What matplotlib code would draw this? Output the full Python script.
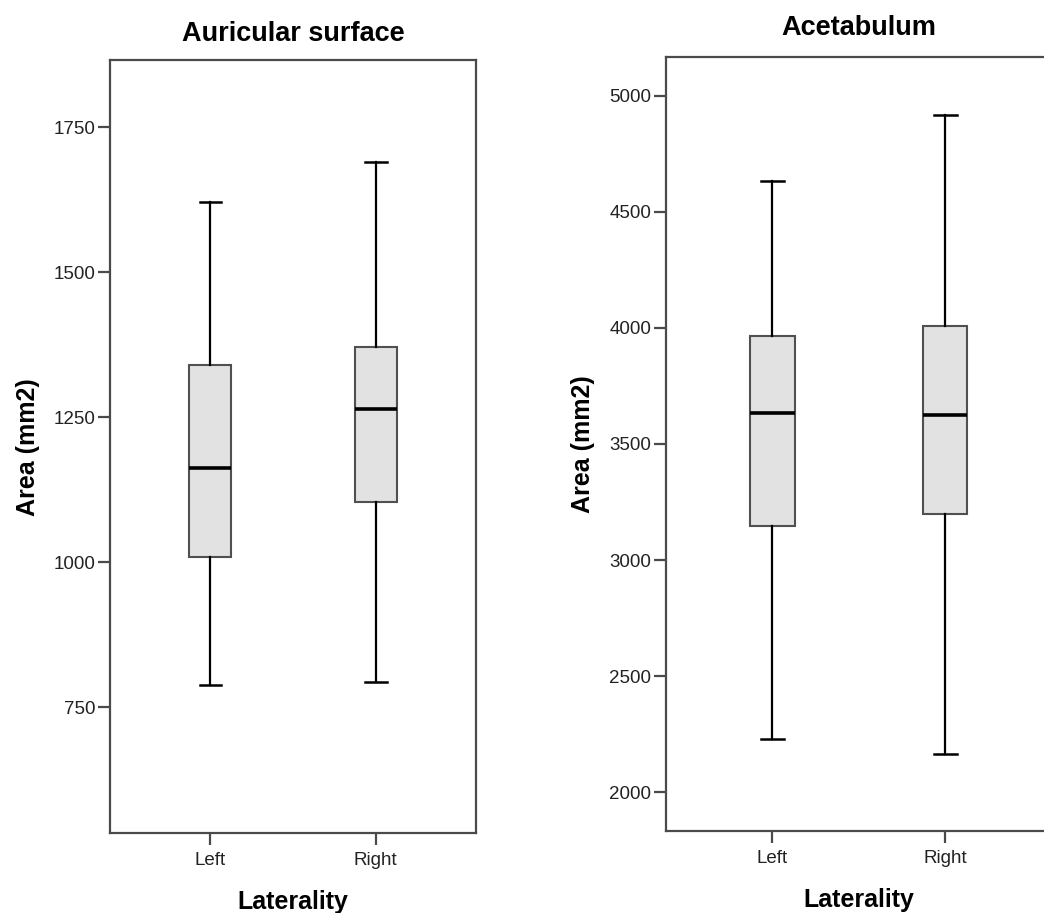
import matplotlib
matplotlib.use("Agg")
import matplotlib.pyplot as plt

plt.rcParams['font.family'] = ['Liberation Sans', 'DejaVu Sans']

categories = ["Left", "Right"]

# five-number summaries: low whisker, Q1, median, Q3, high whisker
auricular_low = [789, 794]
auricular_q1 = [1010, 1104]
auricular_med = [1162, 1264]
auricular_q3 = [1341, 1371]
auricular_high = [1621, 1690]

acetabulum_low = [2229, 2166]
acetabulum_q1 = [3146, 3198]
acetabulum_med = [3632, 3625]
acetabulum_q3 = [3963, 4009]
acetabulum_high = [4631, 4917]

auricular_ticks = [750, 1000, 1250, 1500, 1750]
acetabulum_ticks = [2000, 2500, 3000, 3500, 4000, 4500, 5000]

AXIS_COL = '#4a4a4a'


def make_stats(low, q1, med, q3, high):
    stats = []
    for i, cat in enumerate(categories):
        stats.append({'label': cat, 'whislo': low[i], 'q1': q1[i], 'med': med[i],
                      'q3': q3[i], 'whishi': high[i], 'fliers': []})
    return stats


def draw_panel(ax, stats, title, ticks, ylim, title_pad=14):
    ax.bxp(stats, positions=[1, 2], widths=0.255, patch_artist=True,
           showfliers=False,
           boxprops=dict(facecolor='#e2e2e2', edgecolor='#505050', linewidth=1.5),
           medianprops=dict(color='black', linewidth=2.6),
           whiskerprops=dict(color='black', linewidth=1.6),
           capprops=dict(color='black', linewidth=1.8),
           capwidths=0.13)
    ax.set_xlim(0.394, 2.606)
    ax.set_ylim(*ylim)
    ax.set_yticks(ticks)
    ax.set_yticklabels([str(t) for t in ticks])
    ax.set_xticks([1, 2])
    ax.set_xticklabels(categories)
    ax.tick_params(axis='both', length=8.5, width=1.6, color=AXIS_COL,
                   labelsize=13.5, labelcolor='#222222', pad=2)
    ax.tick_params(axis='x', pad=5)
    for s in ax.spines.values():
        s.set_color(AXIS_COL)
        s.set_linewidth(1.6)
    ax.set_title(title, fontsize=19.5, fontweight='bold', pad=title_pad)
    ax.set_xlabel('Laterality', fontsize=18, fontweight='bold', labelpad=15)
    ax.set_ylabel('Area (mm2)', fontsize=18, fontweight='bold', labelpad=10)


fig = plt.figure(figsize=(10.44, 9.13), dpi=100)
ax1 = fig.add_axes([0.1054, 0.0873, 0.3506, 0.847])
ax2 = fig.add_axes([0.6379, 0.0898, 0.3697, 0.8474])

draw_panel(ax1, make_stats(auricular_low, auricular_q1, auricular_med, auricular_q3, auricular_high),
           'Auricular surface', auricular_ticks, (533, 1866))
draw_panel(ax2, make_stats(acetabulum_low, acetabulum_q1, acetabulum_med, acetabulum_q3, acetabulum_high),
           'Acetabulum', acetabulum_ticks, (1833, 5165), title_pad=16)
# the right panel runs off the edge of the original picture
ax2.set_xlim(0.384, 2.616)

fig.savefig('out.png', dpi=100)
